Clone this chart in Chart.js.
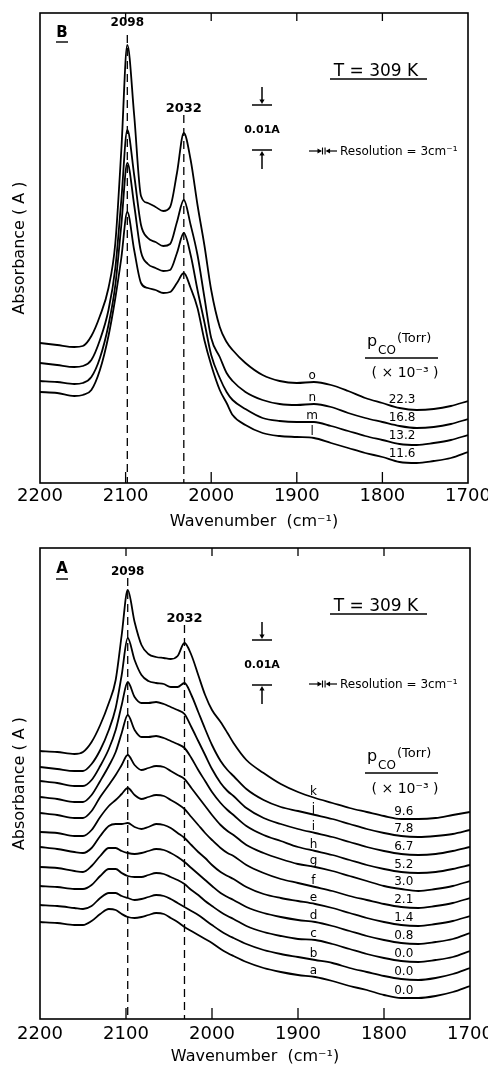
<!DOCTYPE html>
<html>
<head>
<meta charset="utf-8">
<script src="https://cdn.jsdelivr.net/npm/chart.js@4.4.1/dist/chart.umd.min.js"></script>
<style>
html, body { margin: 0; padding: 0; background: #fff; }
#wrap { position: relative; width: 488px; height: 1067px; overflow: hidden; }
canvas { position: absolute; left: 0; }
#panelB { top: 0; }
#panelA { top: 534px; }
</style>
</head>
<body>
<div id="wrap">
  <canvas id="panelB" width="488" height="534"></canvas>
  <canvas id="panelA" width="488" height="533"></canvas>
</div>
<script>
/* IR spectra of adsorbed CO, T = 309 K — two stacked panels (B on top, A below) */

/* ── Data (absorbance in display units, 45 units = 0.01 A, arbitrary offsets) ── */
var wavenumbers = [2200,2180,2160,2150,2140,2130,2120,2112,2105,2098,2090,2082,2074,2065,2056,2048,2040,2032,2024,2016,
                   2008,2000,1990,1982,1975,1960,1940,1920,1900,1880,1860,1840,1820,1800,1780,1760,1740,1720,1700];
var xTicks = [2200,2100,2000,1900,1800,1700];
var innerTicks = [2100,2000,1900,1800];
var peakMarks = [2098,2032];

// panel B, curves l..o (bottom to top)
var specL = [91,90,87,88,93,113,147,185,225,271,233,200,195,193,190,191,200,210,195,175,143,118,93,80,68,58,50,47,46,45,40,35,30,26,21,20,22,25,31];
var specM = [102,101,99,100,106,125,158,198,258,320,278,231,219,215,212,213,230,250,228,193,161,128,105,91,83,74,65,62,61,61,57,52,47,43,39,38,40,43,48];
var specN = [120,118,116,117,123,143,173,215,283,353,308,258,245,241,237,239,261,283,258,228,186,145,126,110,102,91,83,79,78,79,76,70,65,61,57,55,56,59,64];
var specO = [140,138,136,137,147,167,195,240,333,438,368,287,280,276,272,276,310,350,323,278,238,193,156,141,133,120,108,102,100,101,98,92,85,80,75,73,74,77,82];
var namesB = ['l','m','n','o'];
var pressB = ['11.6','13.2','16.8','22.3'];
var markTopB = [448,368];

// panel A, curves a..k (bottom to top)
var specA = [97,96,94,94,98,105,110,109,105,102,101,102,104,106,105,101,97,92,88,84,80,76,70,66,63,57,51,47,44,42,38,33,29,24,21,21,23,27,33];
var specB = [114,113,111,110,113,121,126,126,123,121,119,120,122,124,123,120,116,112,108,104,99,94,88,84,81,75,69,65,62,59,56,51,47,43,40,39,41,45,51];
var specC = [133,132,130,130,134,143,150,150,146,143,142,142,144,146,145,142,139,135,129,124,118,113,107,103,100,93,87,83,80,79,75,70,65,61,58,57,59,62,68];
var specD = [152,151,148,147,153,163,171,171,168,166,165,166,168,170,169,166,162,157,151,145,139,133,126,122,119,112,106,102,99,97,93,88,83,79,76,75,77,80,86];
var specE = [172,170,167,166,171,183,193,195,195,196,192,190,192,195,194,191,186,181,174,167,161,154,147,143,140,132,125,121,118,115,111,106,101,97,94,93,95,98,103];
var specF = [187,186,183,183,189,202,213,219,225,231,224,220,222,224,223,219,215,210,202,194,186,179,171,166,163,154,146,140,136,132,128,123,119,115,112,111,113,116,121];
var specG = [206,204,201,201,208,222,234,244,254,264,254,249,251,253,252,248,244,240,231,222,213,204,194,188,184,174,166,160,155,152,148,143,138,133,130,128,130,133,138];
var specH = [222,220,217,217,224,238,253,267,286,304,289,282,282,283,281,278,275,271,261,249,238,227,216,209,204,193,184,178,172,168,164,159,154,150,147,146,147,150,154];
var specI = [238,236,233,233,239,253,270,289,314,337,322,316,316,317,315,312,309,305,292,278,264,250,236,228,223,211,201,195,190,186,182,177,172,168,165,164,165,168,172];
var specJ = [252,250,248,248,255,269,289,311,344,381,359,344,338,336,335,332,332,336,324,307,290,274,258,249,243,230,219,212,208,204,200,195,190,186,183,182,183,185,189];
var specK = [268,267,265,267,277,294,316,339,384,429,397,374,365,362,361,360,363,376,364,344,324,309,297,286,276,259,246,235,227,221,216,211,207,203,200,200,201,204,207];
var namesA = ['a','b','c','d','e','f','g','h','i','j','k'];
var pressA = ['0.0','0.0','0.0','0.8','1.4','2.1','3.0','5.2','6.7','7.8','9.6'];
var markTopA = [441,394];

var UNITS_PER_CENTI_A = 45;   // scale bar: 0.01 A
var RESOLUTION_CM = 3;

var FONT = '"DejaVu Sans", sans-serif';

/* ── Decorations: frame, inward ticks, annotations ── */
function hline(ctx, x0, x1, y, w){
  ctx.lineWidth = w; ctx.beginPath(); ctx.moveTo(x0, y); ctx.lineTo(x1, y); ctx.stroke();
}
function vline(ctx, x, y0, y1, w){
  ctx.lineWidth = w; ctx.beginPath(); ctx.moveTo(x, y0); ctx.lineTo(x, y1); ctx.stroke();
}
function arrowHead(ctx, x, y, dx, dy){
  // tip at (x,y), pointing along (dx,dy)
  var s = 4.5, w = 2.6;
  ctx.beginPath();
  ctx.moveTo(x, y);
  ctx.lineTo(x - dx*s - dy*w, y - dy*s - dx*w);
  ctx.lineTo(x - dx*s + dy*w, y - dy*s + dx*w);
  ctx.closePath(); ctx.fill();
}

function drawDecor(chart, cfg, series){
  var ctx = chart.ctx, a = chart.chartArea, xs = chart.scales.x, ys = chart.scales.y;
  var t = a.top;
  ctx.save();
  ctx.strokeStyle = '#000'; ctx.fillStyle = '#000';

  ctx.lineWidth = 1.6;
  ctx.strokeRect(a.left, a.top, a.right - a.left, a.bottom - a.top);
  innerTicks.forEach(function(w){
    var px = xs.getPixelForValue(w);
    vline(ctx, px, a.top, a.top + 8, 1.3);
    vline(ctx, px, a.bottom, a.bottom - 11, 1.3);
  });

  // panel letter
  ctx.textAlign = 'center'; ctx.textBaseline = 'alphabetic';
  ctx.font = 'bold 15px ' + FONT;
  ctx.fillText(cfg.letter, 62, t + cfg.letterBase);
  hline(ctx, 56, 68, t + cfg.letterLine, 1.4);

  // peak labels above dashed markers
  ctx.font = 'bold 12px ' + FONT;
  ctx.fillText(String(peakMarks[0]), xs.getPixelForValue(peakMarks[0]), t + cfg.peakBase[0]);
  ctx.font = 'bold 13px ' + FONT;
  ctx.fillText(String(peakMarks[1]), xs.getPixelForValue(peakMarks[1]), t + cfg.peakBase[1]);

  // temperature
  ctx.font = '17px ' + FONT;
  ctx.fillText('T = 309 K', 376, t + 63);
  hline(ctx, 330, 427, t + 66, 1.5);

  // 0.01 A scale bar
  var sx = 262;
  var barTop = t + 92;
  var barBot = ys.getPixelForValue(ys.getValueForPixel(barTop) - UNITS_PER_CENTI_A);
  vline(ctx, sx, t + 74, barTop - 3, 1.5);
  arrowHead(ctx, sx, barTop - 1, 0, 1);
  hline(ctx, 252, 272, barTop, 1.5);
  ctx.font = 'bold 11px ' + FONT;
  ctx.fillText('0.01A', sx, t + 119.5);
  hline(ctx, 252, 272, barBot, 1.5);
  vline(ctx, sx, barBot + 3, barBot + 19, 1.5);
  arrowHead(ctx, sx, barBot + 1, 0, -1);

  // resolution marker, bar spacing taken from the x scale
  var ry = t + cfg.resBase - 4;
  var gap = Math.abs(xs.getPixelForValue(1800) - xs.getPixelForValue(1800 + RESOLUTION_CM));
  var b1 = 322.5, b2 = b1 + gap;
  hline(ctx, 309, b1 - 2, ry, 1.2);
  arrowHead(ctx, b1 - 0.5, ry, 1, 0);
  vline(ctx, b1, ry - 3.5, ry + 3.5, 1.1);
  vline(ctx, b2, ry - 3.5, ry + 3.5, 1.1);
  hline(ctx, b2 + 2, 337, ry, 1.2);
  arrowHead(ctx, b2 + 0.5, ry, -1, 0);
  ctx.textAlign = 'left';
  ctx.font = '12px ' + FONT;
  ctx.fillText('Resolution = 3cm\u207B\u00B9', 340, t + cfg.resBase);

  // pressure legend header
  ctx.font = '16px ' + FONT;
  ctx.fillText('p', 367, t + cfg.pBase);
  ctx.font = '12px ' + FONT;
  ctx.fillText('CO', 378, t + cfg.pBase + 8);
  ctx.font = '13px ' + FONT;
  ctx.fillText('(Torr)', 397, t + cfg.pBase - 4);
  hline(ctx, 365, 438, t + cfg.pLine, 1.5);
  ctx.textAlign = 'center'; ctx.textBaseline = 'middle';
  ctx.font = '14px ' + FONT;
  ctx.fillText('( \u00D7 10\u207B\u00B3 )', 405, t + cfg.pUnit);

  // curve letters and pressures, sitting on their curves
  var iL = wavenumbers.indexOf(1880), iV = wavenumbers.indexOf(1780);
  ctx.font = '12px ' + FONT;
  series.forEach(function(s, i){
    ctx.fillText(cfg.names[i], xs.getPixelForValue(1882), ys.getPixelForValue(s[iL]) - 6);
    ctx.fillText(cfg.press[i], xs.getPixelForValue(1777), ys.getPixelForValue(s[iV]) - cfg.valueLift);
  });
  ctx.restore();
}

function makePanel(canvasId, series, cfg){
  var datasets = series.map(function(s){
    return {
      data: wavenumbers.map(function(w, i){ return {x: w, y: s[i]}; }),
      borderColor: '#000', borderWidth: 1.8, pointRadius: 0,
      cubicInterpolationMode: 'monotone', fill: false
    };
  });
  peakMarks.forEach(function(w, i){
    datasets.push({
      data: [{x: w, y: cfg.markTops[i]}, {x: w, y: 0}],
      borderColor: '#000', borderWidth: 1.3, borderDash: [8, 5],
      pointRadius: 0, tension: 0, fill: false
    });
  });
  return new Chart(document.getElementById(canvasId), {
    type: 'line',
    data: {datasets: datasets},
    options: {
      responsive: false, animation: false, events: [],
      layout: {padding: {left: 10, right: cfg.padRight, top: cfg.padTop, bottom: 0}},
      plugins: {legend: {display: false}, tooltip: {enabled: false}},
      scales: {
        x: {
          type: 'linear', reverse: true, min: 1700, max: 2200,
          grid: {display: false, drawTicks: false}, border: {display: false},
          afterBuildTicks: function(s){ s.ticks = xTicks.map(function(v){ return {value: v}; }); },
          ticks: {autoSkip: false, maxRotation: 0, padding: cfg.tickPad, color: '#000',
                  font: {family: FONT, size: 18},
                  callback: function(v){ return String(v); }},
          title: {display: true, text: 'Wavenumber  (cm\u207B\u00B9)', color: '#000',
                  font: {family: FONT, size: 16}, padding: {top: 0, bottom: cfg.titlePad}},
          afterFit: function(s){ s.height = cfg.xAxisH; s.paddingLeft = 0; s.paddingRight = 0; }
        },
        y: {
          min: 0, max: cfg.yMax,
          grid: {display: false, drawTicks: false}, border: {display: false},
          ticks: {display: false},
          title: {display: true, text: 'Absorbance ( A )', color: '#000',
                  font: {family: FONT, size: 16}, padding: {top: 0, bottom: 0}},
          afterFit: function(s){ s.width = 30; }
        }
      }
    },
    plugins: [{id: 'decor', afterDraw: function(c){ drawDecor(c, cfg, series); }}]
  });
}

makePanel('panelB', [specL, specM, specN, specO], {
  letter: 'B', names: namesB, press: pressB, markTops: markTopB,
  padTop: 13, padRight: 20, yMax: 470, xAxisH: 51, tickPad: 3, titlePad: 2.4,
  letterBase: 24, letterLine: 29, peakBase: [13, 99], resBase: 142,
  pBase: 333, pLine: 345, pUnit: 360, valueLift: 8
});

makePanel('panelA', [specA, specB, specC, specD, specE, specF, specG, specH, specI, specJ, specK], {
  letter: 'A', names: namesA, press: pressA, markTops: markTopA,
  padTop: 14, padRight: 18, yMax: 471, xAxisH: 48, tickPad: 5, titlePad: 0.4,
  letterBase: 25, letterLine: 31, peakBase: [27, 74], resBase: 140,
  pBase: 213, pLine: 225, pUnit: 241, valueLift: 7
});
</script>
</body>
</html>
